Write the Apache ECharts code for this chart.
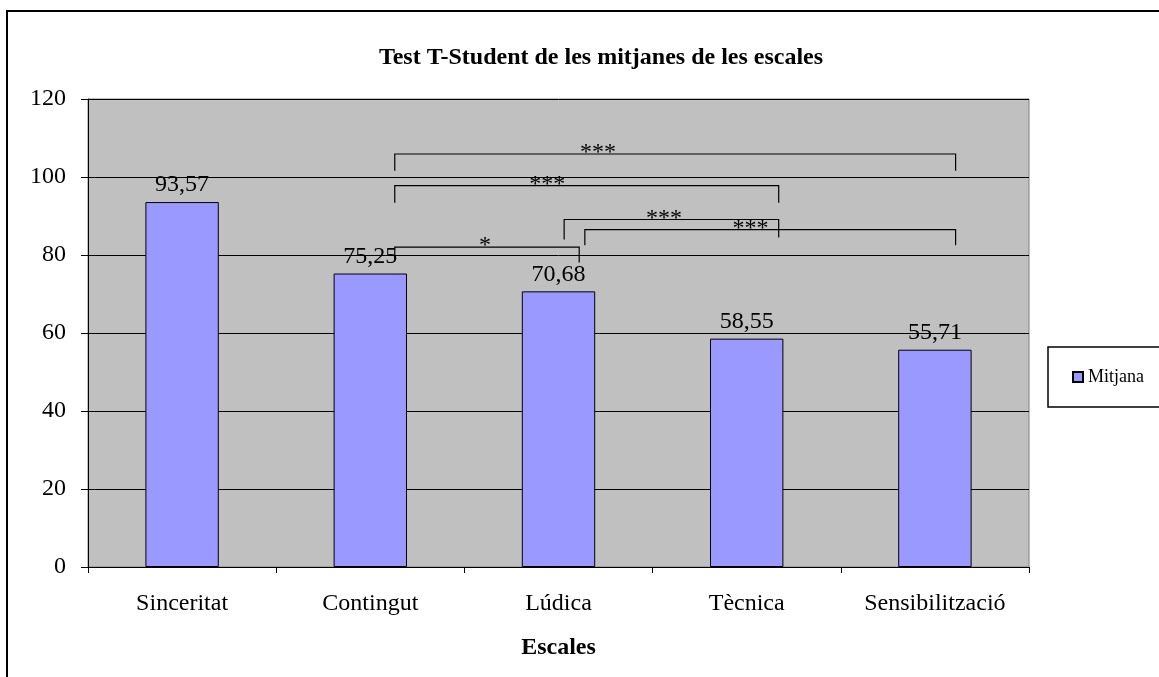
<!DOCTYPE html>
<html>
<head>
<meta charset="utf-8">
<script src="https://cdn.jsdelivr.net/npm/echarts@6/dist/echarts.min.js"></script>
<style>
  html, body { margin: 0; padding: 0; background: #fff; }
  #chart { width: 1159px; height: 677px; }
</style>
</head>
<body>
<div id="chart"></div>
<script>
// dades
const categories = ['Sinceritat', 'Contingut', 'Lúdica', 'Tècnica', 'Sensibilització']
const mitjana = [93.57, 75.25, 70.68, 58.55, 55.71]
const yTicks = [0, 20, 40, 60, 80, 100, 120]

// claudàtors de significació: extrems en índex de categoria, nivell i final dels traços
const bracketFrom = [1.13, 1.13, 2.03, 2.14, 1.13]
const bracketTo = [4.11, 3.17, 3.17, 4.11, 2.11]
const bracketLevel = [105.9, 97.8, 89.1, 86.5, 82.0]
const bracketLeftEnd = [101.6, 93.4, 84.0, 82.5, 79.1]
const bracketRightEnd = [101.6, 93.4, 84.5, 82.5, 78.1]
const bracketLabelAt = [2.21, 1.94, 2.56, 3.02, 1.61]
const bracketLabels = ['***', '***', '***', '***', '*']

const serif = '"Liberation Serif", "DejaVu Serif", serif'

const chart = echarts.init(document.getElementById('chart'))

chart.setOption({
  animation: false,
  backgroundColor: '#fff',
  title: {
    text: 'Test T-Student de les mitjanes de les escales',
    left: 596,
    textAlign: 'center',
    top: 41,
    textStyle: { fontFamily: serif, fontWeight: 'bold', fontSize: 24, color: '#000' }
  },
  legend: {
    data: ['Mitjana'],
    left: 1048,
    top: 347,
    orient: 'vertical',
    padding: [21, 40, 21, 24],
    backgroundColor: '#fff',
    borderColor: '#000',
    borderWidth: 1.5,
    borderRadius: 0,
    itemWidth: 10,
    itemHeight: 10,
    itemGap: 4,
    icon: 'rect',
    textStyle: { fontFamily: serif, fontSize: 18, color: '#000', padding: [0, 0, 0, 0] }
  },
  grid: {
    left: 88,
    right: 130,
    top: 99,
    bottom: 110,
    show: true,
    backgroundColor: '#C0C0C0',
    borderColor: '#808080',
    borderWidth: 1
  },
  xAxis: {
    type: 'category',
    data: categories,
    name: 'Escales',
    nameLocation: 'middle',
    nameGap: 69,
    nameTextStyle: { fontFamily: serif, fontWeight: 'bold', fontSize: 24, color: '#000' },
    axisLine: { lineStyle: { color: '#000', width: 1 } },
    axisTick: { show: true, inside: false, length: 6, lineStyle: { color: '#000' } },
    axisLabel: { fontFamily: serif, fontSize: 24, color: '#000', margin: 25 }
  },
  yAxis: {
    type: 'value',
    min: yTicks[0],
    max: yTicks[yTicks.length - 1],
    interval: 20,
    axisLine: { show: true, lineStyle: { color: '#000', width: 1 } },
    axisTick: { show: true, length: 7, lineStyle: { color: '#000' } },
    axisLabel: { fontFamily: serif, fontSize: 24, color: '#000', margin: 22 },
    splitLine: { show: true, lineStyle: { color: '#000', width: 1 } }
  },
  series: [
    {
      name: 'Mitjana',
      type: 'bar',
      data: mitjana,
      barWidth: '39%',
      itemStyle: { color: '#9999FF', borderColor: '#000', borderWidth: 1 },
      label: {
        show: true,
        position: 'top',
        distance: 5,
        fontFamily: serif,
        fontSize: 24,
        color: '#000',
        formatter: p => String(p.value.toFixed(2)).replace('.', ',')
      },
      z: 2
    },
    {
      type: 'custom',
      name: 'claudàtors',
      silent: true,
      z: 5,
      data: bracketLevel.map((v, i) => [bracketFrom[i], v]),
      renderItem: (params, api) => {
        const i = params.dataIndex
        const band = api.size([1, 0])[0]
        const x0 = api.coord([0, 0])[0]
        const xOf = idx => x0 + band * idx
        const yOf = v => api.coord([0, v])[1]
        const x1 = xOf(bracketFrom[i])
        const x2 = xOf(bracketTo[i])
        const yTop = yOf(bracketLevel[i])
        return {
          type: 'group',
          children: [
            {
              type: 'polyline',
              shape: { points: [[x1, yOf(bracketLeftEnd[i])], [x1, yTop], [x2, yTop], [x2, yOf(bracketRightEnd[i])]] },
              style: { stroke: '#000', lineWidth: 1.2, fill: null }
            },
            {
              type: 'text',
              style: {
                text: bracketLabels[i],
                x: xOf(bracketLabelAt[i]),
                y: yTop + 11,
                align: 'center',
                verticalAlign: 'bottom',
                font: '24px ' + serif,
                fill: '#000'
              }
            }
          ]
        }
      }
    }
  ],
  graphic: [
    {
      type: 'polyline',
      shape: { points: [[7, 700], [7, 11], [1170, 11]] },
      style: { stroke: '#000', lineWidth: 2, fill: null }
    }
  ]
})
</script>
</body>
</html>
